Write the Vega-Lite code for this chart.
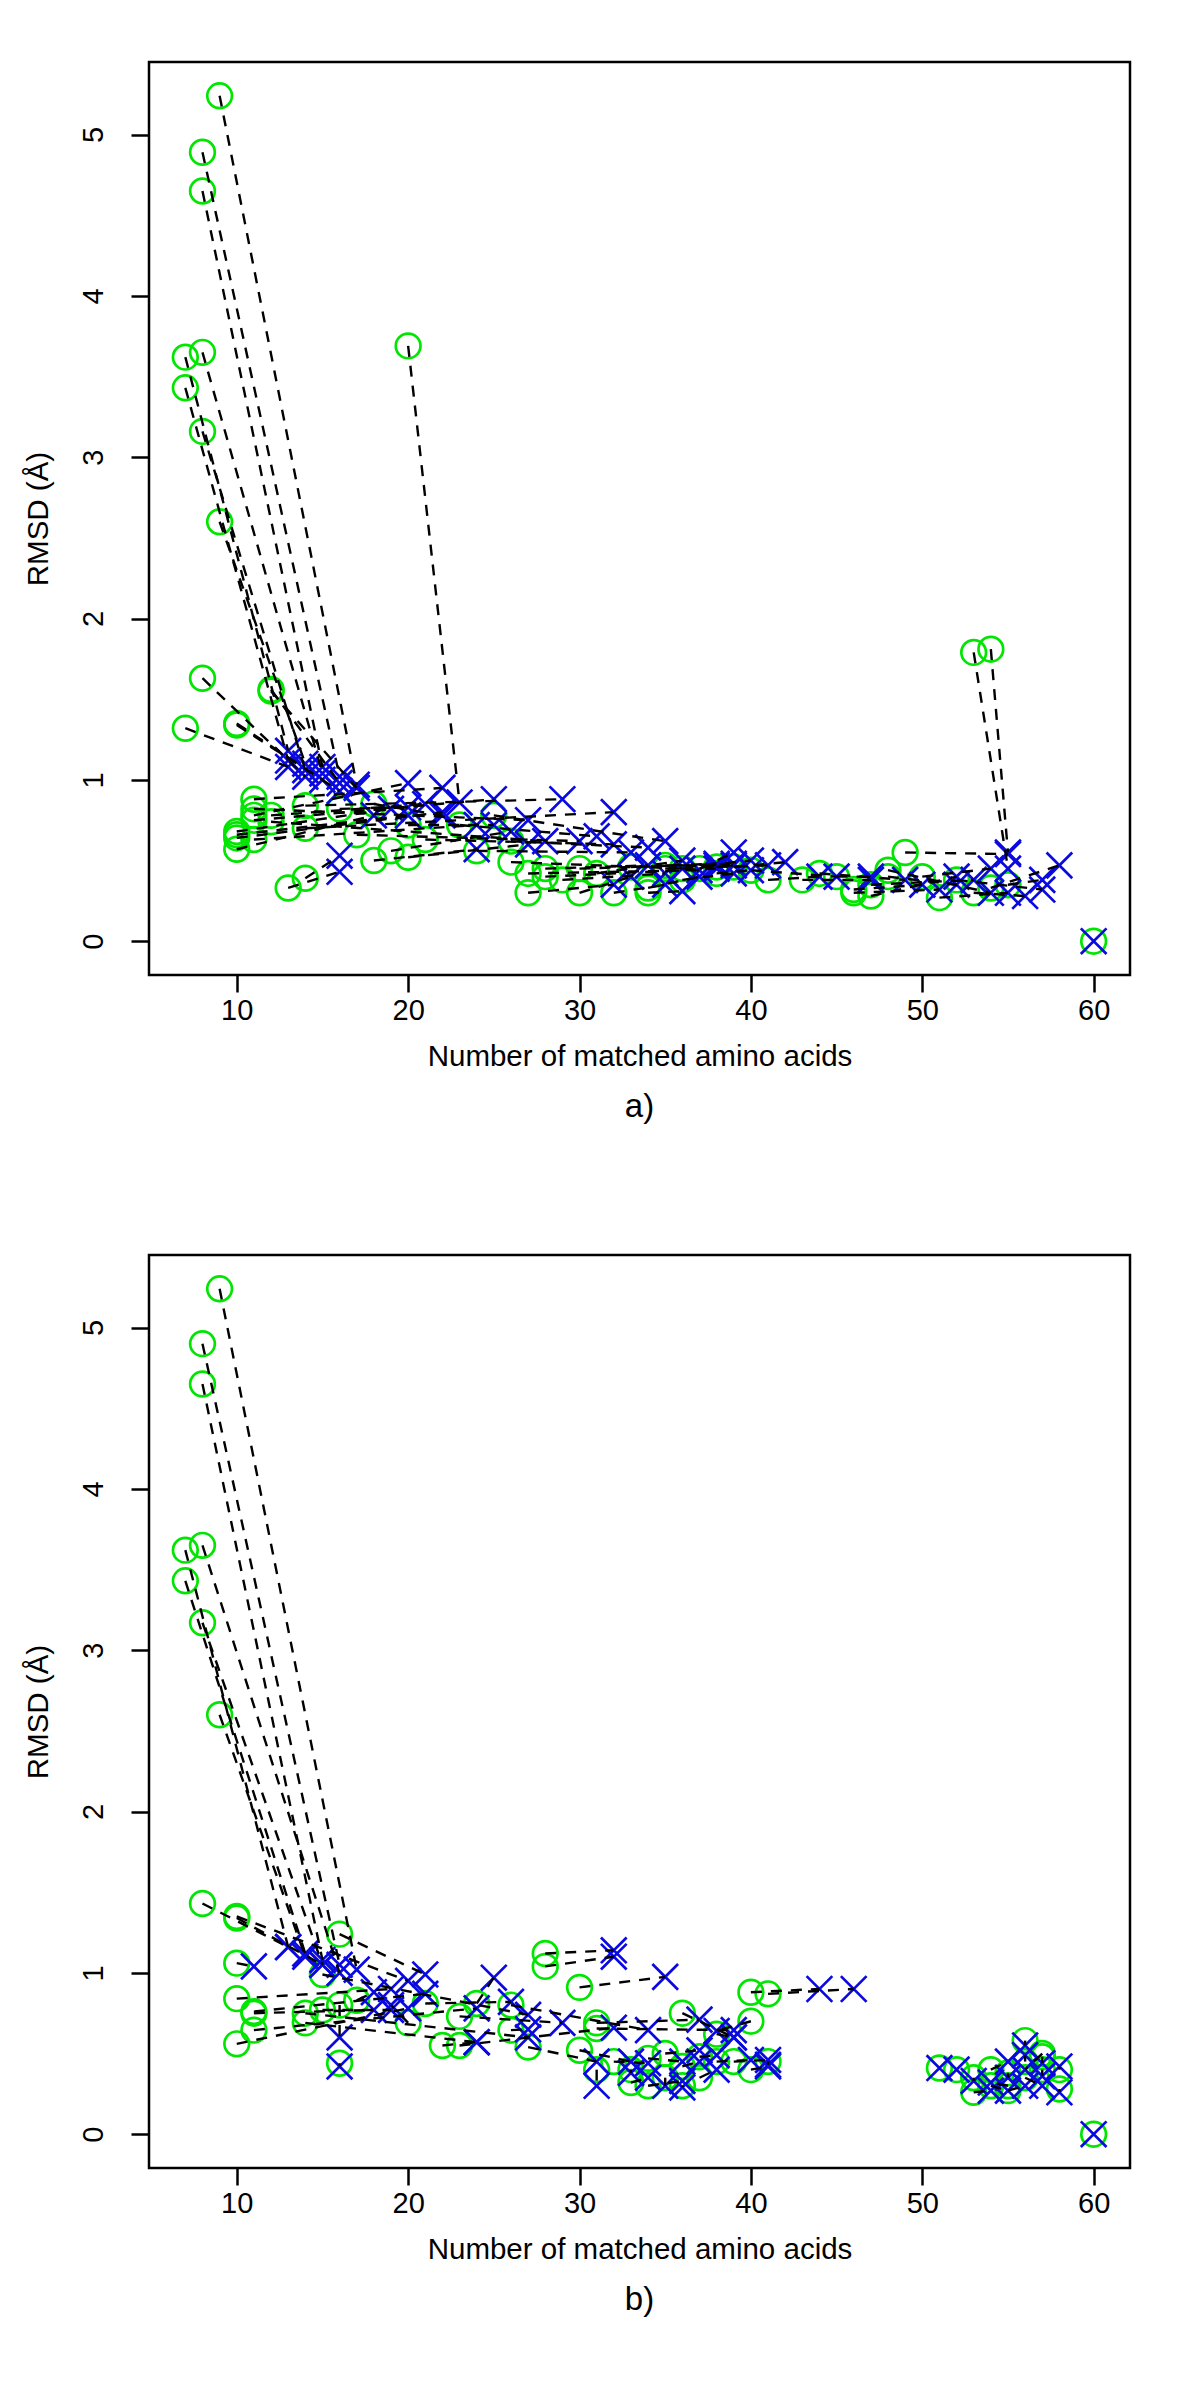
{
"$schema": "https://vega.github.io/schema/vega-lite/v6.json",
"background": "white",
"padding": {"left": 21, "top": 60, "right": 5, "bottom": 5},
"spacing": 128,
"config": {
 "font": "Liberation Sans",
 "view": {"stroke": "black", "strokeWidth": 2.5},
 "axis": {"grid": false, "domain": false, "tickColor": "black", "tickWidth": 2.5, "labelFont": "Liberation Sans", "labelFontSize": 29, "labelColor": "black", "labelFlush": false, "labelOverlap": false, "titleFont": "Liberation Sans", "titleFontSize": 29.5, "titleFontWeight": "normal", "titleColor": "black"},
 "axisX": {"tickSize": 17, "labelPadding": 27, "labelBaseline": "alphabetic", "titleY": 90, "titleBaseline": "alphabetic"},
 "axisY": {"tickSize": 18, "labelAngle": 270, "labelAlign": "center", "labelBaseline": "alphabetic", "labelPadding": 29, "titleX": -102, "titleBaseline": "alphabetic", "titleAngle": 270},
 "title": {"font": "Liberation Sans", "fontWeight": "normal", "color": "black", "fontSize": 33}
},
"datasets": {
"a": [
{"pair":1,"m":"c","n":9,"rmsd":5.24},{"pair":1,"m":"x","n":17,"rmsd":0.97},
{"pair":2,"m":"c","n":8,"rmsd":4.89},{"pair":2,"m":"x","n":16,"rmsd":1.02},
{"pair":3,"m":"c","n":8,"rmsd":4.65},{"pair":3,"m":"x","n":15,"rmsd":1.08},
{"pair":4,"m":"c","n":7,"rmsd":3.62},{"pair":4,"m":"x","n":13,"rmsd":1.18},
{"pair":5,"m":"c","n":8,"rmsd":3.65},{"pair":5,"m":"x","n":15,"rmsd":1.04},
{"pair":6,"m":"c","n":7,"rmsd":3.43},{"pair":6,"m":"x","n":13,"rmsd":1.12},
{"pair":7,"m":"c","n":8,"rmsd":3.16},{"pair":7,"m":"x","n":14,"rmsd":1.06},
{"pair":8,"m":"c","n":9,"rmsd":2.60},{"pair":8,"m":"x","n":14,"rmsd":1.10},
{"pair":9,"m":"c","n":20,"rmsd":3.69},{"pair":9,"m":"x","n":23,"rmsd":0.86},
{"pair":10,"m":"c","n":8,"rmsd":1.63},{"pair":10,"m":"x","n":14,"rmsd":1.02},
{"pair":11,"m":"c","n":12,"rmsd":1.56},{"pair":11,"m":"x","n":16,"rmsd":0.98},
{"pair":12,"m":"c","n":7,"rmsd":1.32},{"pair":12,"m":"x","n":13,"rmsd":1.08},
{"pair":13,"m":"c","n":10,"rmsd":1.34},{"pair":13,"m":"x","n":16,"rmsd":0.93},
{"pair":14,"m":"c","n":12,"rmsd":1.55},{"pair":14,"m":"x","n":17,"rmsd":0.95},
{"pair":15,"m":"c","n":10,"rmsd":1.35},{"pair":15,"m":"x","n":15,"rmsd":1.00},
{"pair":16,"m":"c","n":53,"rmsd":1.79},{"pair":16,"m":"x","n":55,"rmsd":0.45},
{"pair":17,"m":"c","n":54,"rmsd":1.81},{"pair":17,"m":"x","n":55,"rmsd":0.55},
{"pair":18,"m":"c","n":11,"rmsd":0.88},{"pair":18,"m":"x","n":22,"rmsd":0.95},
{"pair":19,"m":"c","n":11,"rmsd":0.78},{"pair":19,"m":"x","n":20,"rmsd":0.98},
{"pair":20,"m":"c","n":12,"rmsd":0.78},{"pair":20,"m":"x","n":21,"rmsd":0.85},
{"pair":21,"m":"c","n":10,"rmsd":0.68},{"pair":21,"m":"x","n":19,"rmsd":0.82},
{"pair":22,"m":"c","n":10,"rmsd":0.64},{"pair":22,"m":"x","n":22,"rmsd":0.80},
{"pair":23,"m":"c","n":10,"rmsd":0.57},{"pair":23,"m":"x","n":18,"rmsd":0.78},
{"pair":24,"m":"c","n":11,"rmsd":0.63},{"pair":24,"m":"x","n":24,"rmsd":0.72},
{"pair":25,"m":"c","n":11,"rmsd":0.75},{"pair":25,"m":"x","n":25,"rmsd":0.88},
{"pair":26,"m":"c","n":14,"rmsd":0.84},{"pair":26,"m":"x","n":29,"rmsd":0.88},
{"pair":27,"m":"c","n":14,"rmsd":0.70},{"pair":27,"m":"x","n":32,"rmsd":0.80},
{"pair":28,"m":"c","n":13,"rmsd":0.33},{"pair":28,"m":"x","n":16,"rmsd":0.43},
{"pair":29,"m":"c","n":14,"rmsd":0.39},{"pair":29,"m":"x","n":16,"rmsd":0.53},
{"pair":30,"m":"c","n":11,"rmsd":0.82},{"pair":30,"m":"x","n":27,"rmsd":0.75},
{"pair":31,"m":"c","n":12,"rmsd":0.74},{"pair":31,"m":"x","n":28,"rmsd":0.62},
{"pair":32,"m":"c","n":10,"rmsd":0.66},{"pair":32,"m":"x","n":20,"rmsd":0.78},
{"pair":33,"m":"c","n":17,"rmsd":0.66},{"pair":33,"m":"x","n":30,"rmsd":0.62},
{"pair":34,"m":"c","n":18,"rmsd":0.50},{"pair":34,"m":"x","n":24,"rmsd":0.57},
{"pair":35,"m":"c","n":19,"rmsd":0.56},{"pair":35,"m":"x","n":26,"rmsd":0.68},
{"pair":36,"m":"c","n":20,"rmsd":0.52},{"pair":36,"m":"x","n":27,"rmsd":0.60},
{"pair":37,"m":"c","n":21,"rmsd":0.63},{"pair":37,"m":"x","n":32,"rmsd":0.60},
{"pair":38,"m":"c","n":16,"rmsd":0.82},{"pair":38,"m":"x","n":20,"rmsd":0.83},
{"pair":39,"m":"c","n":18,"rmsd":0.85},{"pair":39,"m":"x","n":22,"rmsd":0.78},
{"pair":40,"m":"c","n":20,"rmsd":0.72},{"pair":40,"m":"x","n":25,"rmsd":0.72},
{"pair":41,"m":"c","n":24,"rmsd":0.56},{"pair":41,"m":"x","n":33,"rmsd":0.55},
{"pair":42,"m":"c","n":25,"rmsd":0.78},{"pair":42,"m":"x","n":35,"rmsd":0.62},
{"pair":43,"m":"c","n":26,"rmsd":0.49},{"pair":43,"m":"x","n":36,"rmsd":0.45},
{"pair":44,"m":"c","n":27,"rmsd":0.30},{"pair":44,"m":"x","n":32,"rmsd":0.35},
{"pair":45,"m":"c","n":27,"rmsd":0.42},{"pair":45,"m":"x","n":37,"rmsd":0.44},
{"pair":46,"m":"c","n":28,"rmsd":0.40},{"pair":46,"m":"x","n":38,"rmsd":0.45},
{"pair":47,"m":"c","n":28,"rmsd":0.45},{"pair":47,"m":"x","n":34,"rmsd":0.47},
{"pair":48,"m":"c","n":29,"rmsd":0.38},{"pair":48,"m":"x","n":35,"rmsd":0.42},
{"pair":49,"m":"c","n":30,"rmsd":0.30},{"pair":49,"m":"x","n":33,"rmsd":0.40},
{"pair":50,"m":"c","n":30,"rmsd":0.45},{"pair":50,"m":"x","n":39,"rmsd":0.48},
{"pair":51,"m":"c","n":31,"rmsd":0.42},{"pair":51,"m":"x","n":36,"rmsd":0.50},
{"pair":52,"m":"c","n":32,"rmsd":0.30},{"pair":52,"m":"x","n":35,"rmsd":0.35},
{"pair":53,"m":"c","n":33,"rmsd":0.46},{"pair":53,"m":"x","n":38,"rmsd":0.48},
{"pair":54,"m":"c","n":34,"rmsd":0.33},{"pair":54,"m":"x","n":37,"rmsd":0.40},
{"pair":55,"m":"c","n":35,"rmsd":0.45},{"pair":55,"m":"x","n":40,"rmsd":0.50},
{"pair":56,"m":"c","n":36,"rmsd":0.38},{"pair":56,"m":"x","n":39,"rmsd":0.42},
{"pair":57,"m":"c","n":37,"rmsd":0.45},{"pair":57,"m":"x","n":39,"rmsd":0.55},
{"pair":58,"m":"c","n":38,"rmsd":0.42},{"pair":58,"m":"x","n":40,"rmsd":0.44},
{"pair":59,"m":"c","n":23,"rmsd":0.72},{"pair":59,"m":"x","n":31,"rmsd":0.65},
{"pair":60,"m":"c","n":26,"rmsd":0.62},{"pair":60,"m":"x","n":34,"rmsd":0.58},
{"pair":61,"m":"c","n":41,"rmsd":0.38},{"pair":61,"m":"x","n":44,"rmsd":0.40},
{"pair":62,"m":"c","n":43,"rmsd":0.38},{"pair":62,"m":"x","n":47,"rmsd":0.38},
{"pair":63,"m":"c","n":40,"rmsd":0.44},{"pair":63,"m":"x","n":45,"rmsd":0.40},
{"pair":64,"m":"c","n":46,"rmsd":0.32},{"pair":64,"m":"x","n":50,"rmsd":0.35},
{"pair":65,"m":"c","n":46,"rmsd":0.30},{"pair":65,"m":"x","n":51,"rmsd":0.32},
{"pair":66,"m":"c","n":47,"rmsd":0.28},{"pair":66,"m":"x","n":52,"rmsd":0.40},
{"pair":67,"m":"c","n":47,"rmsd":0.35},{"pair":67,"m":"x","n":53,"rmsd":0.38},
{"pair":68,"m":"c","n":48,"rmsd":0.40},{"pair":68,"m":"x","n":52,"rmsd":0.35},
{"pair":69,"m":"c","n":48,"rmsd":0.44},{"pair":69,"m":"x","n":54,"rmsd":0.30},
{"pair":70,"m":"c","n":49,"rmsd":0.55},{"pair":70,"m":"x","n":55,"rmsd":0.54},
{"pair":71,"m":"c","n":44,"rmsd":0.42},{"pair":71,"m":"x","n":49,"rmsd":0.38},
{"pair":72,"m":"c","n":51,"rmsd":0.27},{"pair":72,"m":"x","n":55,"rmsd":0.30},
{"pair":73,"m":"c","n":52,"rmsd":0.38},{"pair":73,"m":"x","n":57,"rmsd":0.32},
{"pair":74,"m":"c","n":53,"rmsd":0.30},{"pair":74,"m":"x","n":56,"rmsd":0.28},
{"pair":75,"m":"c","n":54,"rmsd":0.33},{"pair":75,"m":"x","n":58,"rmsd":0.47},
{"pair":76,"m":"c","n":55,"rmsd":0.35},{"pair":76,"m":"x","n":57,"rmsd":0.38},
{"pair":77,"m":"c","n":60,"rmsd":0.00},{"pair":77,"m":"x","n":60,"rmsd":0.00},
{"pair":78,"m":"c","n":50,"rmsd":0.40},{"pair":78,"m":"x","n":54,"rmsd":0.45},
{"pair":79,"m":"c","n":45,"rmsd":0.40},{"pair":79,"m":"x","n":47,"rmsd":0.40},
{"pair":80,"m":"c","n":34,"rmsd":0.30},{"pair":80,"m":"x","n":36,"rmsd":0.31},
{"pair":81,"m":"c","n":38,"rmsd":0.46},{"pair":81,"m":"x","n":41,"rmsd":0.47},
{"pair":82,"m":"c","n":39,"rmsd":0.46},{"pair":82,"m":"x","n":42,"rmsd":0.49},
{"pair":83,"m":"c","n":36,"rmsd":0.45},{"pair":83,"m":"x","n":39,"rmsd":0.47},
{"pair":84,"m":"c","n":35,"rmsd":0.47},{"pair":84,"m":"x","n":38,"rmsd":0.47}
],
"b": [
{"pair":1,"m":"c","n":9,"rmsd":5.24},{"pair":1,"m":"x","n":17,"rmsd":1.02},
{"pair":2,"m":"c","n":8,"rmsd":4.90},{"pair":2,"m":"x","n":16,"rmsd":1.05},
{"pair":3,"m":"c","n":8,"rmsd":4.65},{"pair":3,"m":"x","n":15,"rmsd":1.08},
{"pair":4,"m":"c","n":7,"rmsd":3.62},{"pair":4,"m":"x","n":13,"rmsd":1.16},
{"pair":5,"m":"c","n":8,"rmsd":3.65},{"pair":5,"m":"x","n":16,"rmsd":1.00},
{"pair":6,"m":"c","n":7,"rmsd":3.43},{"pair":6,"m":"x","n":14,"rmsd":1.12},
{"pair":7,"m":"c","n":8,"rmsd":3.17},{"pair":7,"m":"x","n":15,"rmsd":1.05},
{"pair":8,"m":"c","n":9,"rmsd":2.60},{"pair":8,"m":"x","n":14,"rmsd":1.10},
{"pair":9,"m":"c","n":8,"rmsd":1.43},{"pair":9,"m":"x","n":13,"rmsd":1.16},
{"pair":10,"m":"c","n":10,"rmsd":1.35},{"pair":10,"m":"x","n":20,"rmsd":0.95},
{"pair":11,"m":"c","n":10,"rmsd":1.34},{"pair":11,"m":"x","n":15,"rmsd":1.05},
{"pair":12,"m":"c","n":10,"rmsd":1.06},{"pair":12,"m":"x","n":11,"rmsd":1.04},
{"pair":13,"m":"c","n":10,"rmsd":0.84},{"pair":13,"m":"x","n":19,"rmsd":0.90},
{"pair":14,"m":"c","n":11,"rmsd":0.76},{"pair":14,"m":"x","n":21,"rmsd":0.87},
{"pair":15,"m":"c","n":11,"rmsd":0.645},{"pair":15,"m":"x","n":24,"rmsd":0.78},
{"pair":16,"m":"c","n":10,"rmsd":0.56},{"pair":16,"m":"x","n":20,"rmsd":0.78},
{"pair":17,"m":"c","n":11,"rmsd":0.75},{"pair":17,"m":"x","n":18,"rmsd":0.77},
{"pair":18,"m":"c","n":16,"rmsd":1.24},{"pair":18,"m":"x","n":21,"rmsd":0.99},
{"pair":19,"m":"c","n":15,"rmsd":0.99},{"pair":19,"m":"x","n":27,"rmsd":0.74},
{"pair":20,"m":"c","n":14,"rmsd":0.75},{"pair":20,"m":"x","n":27,"rmsd":0.60},
{"pair":21,"m":"c","n":14,"rmsd":0.69},{"pair":21,"m":"x","n":24,"rmsd":0.57},
{"pair":22,"m":"c","n":15,"rmsd":0.77},{"pair":22,"m":"x","n":19,"rmsd":0.77},
{"pair":23,"m":"c","n":16,"rmsd":0.44},{"pair":23,"m":"x","n":16,"rmsd":0.42},
{"pair":24,"m":"c","n":16,"rmsd":0.80},{"pair":24,"m":"x","n":16,"rmsd":0.60},
{"pair":25,"m":"c","n":17,"rmsd":0.83},{"pair":25,"m":"x","n":18,"rmsd":0.88},
{"pair":26,"m":"c","n":20,"rmsd":0.69},{"pair":26,"m":"x","n":19,"rmsd":0.80},
{"pair":27,"m":"c","n":21,"rmsd":0.81},{"pair":27,"m":"x","n":26,"rmsd":0.82},
{"pair":28,"m":"c","n":22,"rmsd":0.55},{"pair":28,"m":"x","n":24,"rmsd":0.57},
{"pair":29,"m":"c","n":23,"rmsd":0.73},{"pair":29,"m":"x","n":29,"rmsd":0.69},
{"pair":30,"m":"c","n":23,"rmsd":0.55},{"pair":30,"m":"x","n":32,"rmsd":0.66},
{"pair":31,"m":"c","n":24,"rmsd":0.81},{"pair":31,"m":"x","n":25,"rmsd":0.97},
{"pair":32,"m":"c","n":26,"rmsd":0.80},{"pair":32,"m":"x","n":34,"rmsd":0.645},
{"pair":33,"m":"c","n":26,"rmsd":0.645},{"pair":33,"m":"x","n":27,"rmsd":0.65},
{"pair":34,"m":"c","n":27,"rmsd":0.54},{"pair":34,"m":"x","n":31,"rmsd":0.45},
{"pair":35,"m":"c","n":28,"rmsd":1.12},{"pair":35,"m":"x","n":32,"rmsd":1.14},
{"pair":36,"m":"c","n":28,"rmsd":1.04},{"pair":36,"m":"x","n":32,"rmsd":1.10},
{"pair":37,"m":"c","n":30,"rmsd":0.91},{"pair":37,"m":"x","n":35,"rmsd":0.975},
{"pair":38,"m":"c","n":31,"rmsd":0.69},{"pair":38,"m":"x","n":37,"rmsd":0.71},
{"pair":39,"m":"c","n":31,"rmsd":0.655},{"pair":39,"m":"x","n":39,"rmsd":0.645},
{"pair":40,"m":"c","n":30,"rmsd":0.52},{"pair":40,"m":"x","n":33,"rmsd":0.45},
{"pair":41,"m":"c","n":36,"rmsd":0.75},{"pair":41,"m":"x","n":39,"rmsd":0.60},
{"pair":42,"m":"c","n":40,"rmsd":0.88},{"pair":42,"m":"x","n":44,"rmsd":0.90},
{"pair":43,"m":"c","n":41,"rmsd":0.87},{"pair":43,"m":"x","n":46,"rmsd":0.90},
{"pair":44,"m":"c","n":40,"rmsd":0.70},{"pair":44,"m":"x","n":38,"rmsd":0.64},
{"pair":45,"m":"c","n":38,"rmsd":0.62},{"pair":45,"m":"x","n":39,"rmsd":0.60},
{"pair":46,"m":"c","n":31,"rmsd":0.40},{"pair":46,"m":"x","n":31,"rmsd":0.30},
{"pair":47,"m":"c","n":32,"rmsd":0.45},{"pair":47,"m":"x","n":34,"rmsd":0.44},
{"pair":48,"m":"c","n":33,"rmsd":0.40},{"pair":48,"m":"x","n":33,"rmsd":0.38},
{"pair":49,"m":"c","n":34,"rmsd":0.47},{"pair":49,"m":"x","n":36,"rmsd":0.45},
{"pair":50,"m":"c","n":35,"rmsd":0.35},{"pair":50,"m":"x","n":35,"rmsd":0.30},
{"pair":51,"m":"c","n":36,"rmsd":0.42},{"pair":51,"m":"x","n":37,"rmsd":0.45},
{"pair":52,"m":"c","n":37,"rmsd":0.48},{"pair":52,"m":"x","n":38,"rmsd":0.49},
{"pair":53,"m":"c","n":38,"rmsd":0.45},{"pair":53,"m":"x","n":40,"rmsd":0.46},
{"pair":54,"m":"c","n":39,"rmsd":0.45},{"pair":54,"m":"x","n":41,"rmsd":0.46},
{"pair":55,"m":"c","n":40,"rmsd":0.40},{"pair":55,"m":"x","n":41,"rmsd":0.42},
{"pair":56,"m":"c","n":41,"rmsd":0.45},{"pair":56,"m":"x","n":41,"rmsd":0.43},
{"pair":57,"m":"c","n":33,"rmsd":0.32},{"pair":57,"m":"x","n":34,"rmsd":0.35},
{"pair":58,"m":"c","n":34,"rmsd":0.30},{"pair":58,"m":"x","n":36,"rmsd":0.33},
{"pair":59,"m":"c","n":37,"rmsd":0.35},{"pair":59,"m":"x","n":38,"rmsd":0.40},
{"pair":60,"m":"c","n":35,"rmsd":0.50},{"pair":60,"m":"x","n":37,"rmsd":0.52},
{"pair":61,"m":"c","n":36,"rmsd":0.30},{"pair":61,"m":"x","n":36,"rmsd":0.29},
{"pair":62,"m":"c","n":51,"rmsd":0.41},{"pair":62,"m":"x","n":51,"rmsd":0.41},
{"pair":63,"m":"c","n":52,"rmsd":0.40},{"pair":63,"m":"x","n":52,"rmsd":0.40},
{"pair":64,"m":"c","n":53,"rmsd":0.26},{"pair":64,"m":"x","n":54,"rmsd":0.27},
{"pair":65,"m":"c","n":53,"rmsd":0.35},{"pair":65,"m":"x","n":53,"rmsd":0.33},
{"pair":66,"m":"c","n":54,"rmsd":0.30},{"pair":66,"m":"x","n":55,"rmsd":0.27},
{"pair":67,"m":"c","n":55,"rmsd":0.38},{"pair":67,"m":"x","n":55,"rmsd":0.35},
{"pair":68,"m":"c","n":55,"rmsd":0.27},{"pair":68,"m":"x","n":56,"rmsd":0.30},
{"pair":69,"m":"c","n":56,"rmsd":0.58},{"pair":69,"m":"x","n":56,"rmsd":0.55},
{"pair":70,"m":"c","n":56,"rmsd":0.45},{"pair":70,"m":"x","n":56,"rmsd":0.49},
{"pair":71,"m":"c","n":57,"rmsd":0.40},{"pair":71,"m":"x","n":57,"rmsd":0.36},
{"pair":72,"m":"c","n":57,"rmsd":0.48},{"pair":72,"m":"x","n":57,"rmsd":0.44},
{"pair":73,"m":"c","n":58,"rmsd":0.40},{"pair":73,"m":"x","n":58,"rmsd":0.42},
{"pair":74,"m":"c","n":58,"rmsd":0.28},{"pair":74,"m":"x","n":58,"rmsd":0.26},
{"pair":75,"m":"c","n":56,"rmsd":0.35},{"pair":75,"m":"x","n":57,"rmsd":0.30},
{"pair":76,"m":"c","n":54,"rmsd":0.40},{"pair":76,"m":"x","n":55,"rmsd":0.45},
{"pair":77,"m":"c","n":60,"rmsd":0.00},{"pair":77,"m":"x","n":60,"rmsd":0.00},
{"pair":78,"m":"c","n":57,"rmsd":0.50},{"pair":78,"m":"x","n":56,"rmsd":0.40},
{"pair":79,"m":"c","n":55,"rmsd":0.30},{"pair":79,"m":"x","n":54,"rmsd":0.32}
]
},
"vconcat": [
{
 "width": 981, "height": 913,
 "data": {"name": "a"},
 "title": {"text": "a)", "orient": "bottom", "frame": "group", "anchor": "middle", "offset": 20},
 "encoding": {
  "x": {"field": "n", "type": "quantitative", "scale": {"domain": [4.88, 62.12], "nice": false, "zero": false}, "axis": {"values": [10, 20, 30, 40, 50, 60], "title": "Number of matched amino acids"}},
  "y": {"field": "rmsd", "type": "quantitative", "scale": {"domain": [-0.2096, 5.4496], "nice": false, "zero": false}, "axis": {"values": [0, 1, 2, 3, 4, 5], "title": "RMSD (Å)"}}
 },
 "layer": [
  {"transform": [{"filter": "datum.m == 'c'"}], "mark": {"type": "point", "shape": "circle", "filled": false, "color": "#00e600", "opacity": 1, "size": 610, "strokeWidth": 2.7}},
  {"transform": [{"filter": "datum.m == 'x'"}], "mark": {"type": "point", "shape": "M-1,-1L1,1M-1,1L1,-1", "filled": false, "color": "#0a0ae0", "opacity": 1, "size": 660, "strokeWidth": 2.7}},
  {"mark": {"type": "line", "color": "black", "strokeWidth": 2.4, "strokeDash": [11, 9]}, "encoding": {"detail": {"field": "pair", "type": "nominal"}, "order": {"field": "m", "type": "nominal"}}}
 ]
},
{
 "width": 981, "height": 913,
 "data": {"name": "b"},
 "title": {"text": "b)", "orient": "bottom", "frame": "group", "anchor": "middle", "offset": 20},
 "encoding": {
  "x": {"field": "n", "type": "quantitative", "scale": {"domain": [4.88, 62.12], "nice": false, "zero": false}, "axis": {"values": [10, 20, 30, 40, 50, 60], "title": "Number of matched amino acids"}},
  "y": {"field": "rmsd", "type": "quantitative", "scale": {"domain": [-0.2096, 5.4496], "nice": false, "zero": false}, "axis": {"values": [0, 1, 2, 3, 4, 5], "title": "RMSD (Å)"}}
 },
 "layer": [
  {"transform": [{"filter": "datum.m == 'c'"}], "mark": {"type": "point", "shape": "circle", "filled": false, "color": "#00e600", "opacity": 1, "size": 610, "strokeWidth": 2.7}},
  {"transform": [{"filter": "datum.m == 'x'"}], "mark": {"type": "point", "shape": "M-1,-1L1,1M-1,1L1,-1", "filled": false, "color": "#0a0ae0", "opacity": 1, "size": 660, "strokeWidth": 2.7}},
  {"mark": {"type": "line", "color": "black", "strokeWidth": 2.4, "strokeDash": [11, 9]}, "encoding": {"detail": {"field": "pair", "type": "nominal"}, "order": {"field": "m", "type": "nominal"}}}
 ]
}
]
}
